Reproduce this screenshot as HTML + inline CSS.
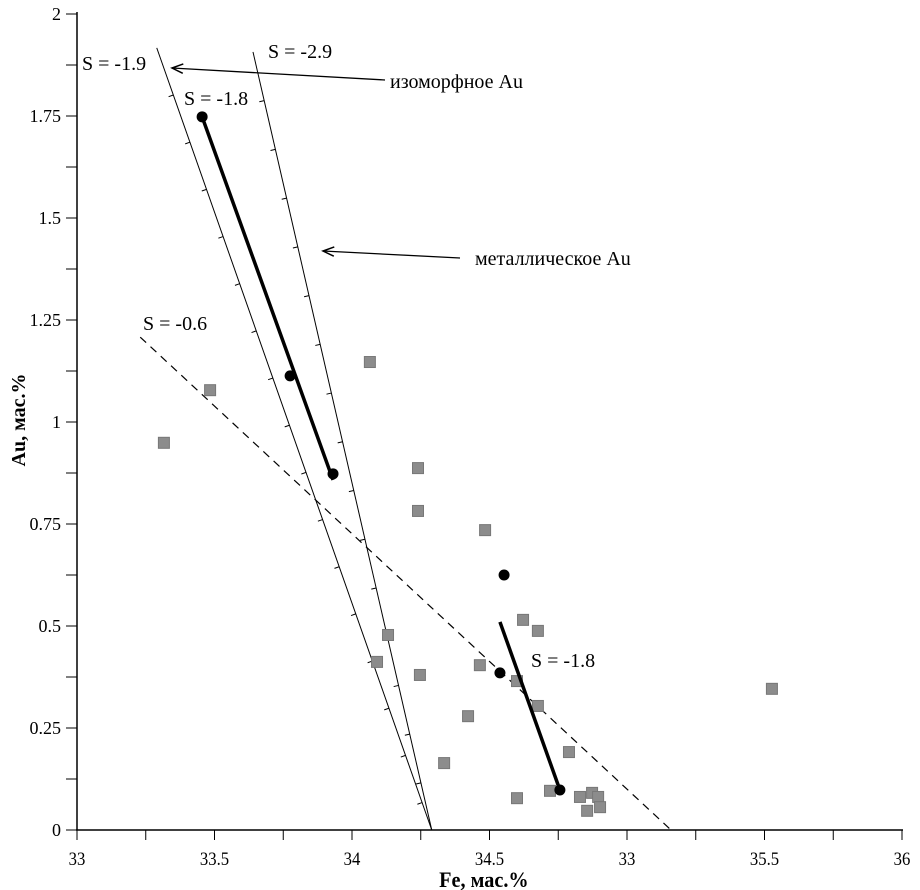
<!DOCTYPE html>
<html><head><meta charset="utf-8"><style>
body{margin:0;background:#fff}
svg{display:block;font-family:"Liberation Serif","DejaVu Serif",serif}
</style></head><body>
<svg id="c" width="920" height="890" viewBox="0 0 920 890"></svg>
<script>
const xTickLabels=["33","33.5","34","34.5","33","35.5","36"];
const yTickLabels=["0","0.25","0.5","0.75","1","1.25","1.5","1.75","2"];
const sqX=[33.316,33.484,34.065,34.240,34.240,34.484,34.131,34.091,34.247,34.465,34.422,34.335,34.622,34.676,34.600,34.676,34.789,34.720,34.600,34.829,34.873,34.895,34.855,34.902,35.527];
const sqY=[0.949,1.078,1.147,0.887,0.782,0.735,0.478,0.412,0.380,0.404,0.279,0.164,0.515,0.488,0.365,0.304,0.191,0.096,0.078,0.081,0.091,0.081,0.047,0.056,0.346];
const circX=[33.455,33.775,33.931,34.553,34.538,34.756];
const circY=[1.748,1.113,0.873,0.625,0.385,0.098];
const trendX1=[33.455,33.931];const trendY1=[1.748,0.858];
const trendX2=[34.538,34.756];const trendY2=[0.51,0.098];
const s19X=[33.29,34.29];const s19Y=[1.917,0];
const s29X=[33.64,34.29];const s29Y=[1.907,0];
const s06X=[33.23,35.16];const s06Y=[1.208,0];
const X0=77,XS=275,Y0=830,YS=408;
const sx=v=>X0+(v-33)*XS, sy=v=>Y0-v*YS;
const svg=document.getElementById('c');const NS="http://www.w3.org/2000/svg";
function mk(t,a,p){const e=document.createElementNS(NS,t);for(const k in a)e.setAttribute(k,a[k]);(p||svg).appendChild(e);return e;}
let e;
e=mk('line',{x1:76,y1:Y0,x2:903,y2:Y0,stroke:'#000','stroke-width':1.5});


e=mk('line',{x1:77,y1:12,x2:77,y2:Y0,stroke:'#000','stroke-width':1.5});


for(let i=0;i<=12;i++){const x=sx(33+i*0.25);
 e=mk('line',{x1:x,y1:Y0,x2:x,y2:Y0+10,stroke:'#000','stroke-width':1});
 
 }
xTickLabels.forEach((l,i)=>{e=mk('text',{x:sx(33+i*0.5),y:865,'text-anchor':'middle','font-size':19,transform:`translate(${sx(33+i*0.5)*0.12},0) scale(0.88,1)`});e.textContent=l;
 
 });
for(let i=0;i<=16;i++){const y=sy(i*0.125);
 e=mk('line',{x1:66,y1:y,x2:77,y2:y,stroke:'#000','stroke-width':1});
 
 }
yTickLabels.forEach((l,i)=>{e=mk('text',{x:61,y:sy(i*0.25)+6,'text-anchor':'end','font-size':18});e.textContent=l;
 
 });
e=mk('text',{x:526,y:887,'text-anchor':'middle','font-size':22,'font-weight':'bold',transform:'scale(0.92,1)'});e.textContent='Fe, мас.%';


e=mk('text',{x:0,y:0,'text-anchor':'middle','font-size':20,'font-weight':'bold',transform:'translate(25,420) rotate(-90)'});e.textContent='Au, мас.%';


function sline(X,Y,name){const x1=sx(X[0]),y1=sy(Y[0]),x2=sx(X[1]),y2=sy(Y[1]);
 e=mk('line',{x1,y1,x2,y2,stroke:'#000','stroke-width':1});
 
 
 const dx=x2-x1,dy=y2-y1,L=Math.hypot(dx,dy),nx=-dy/L,ny=dx/L;
 for(let t=50;t<L-20;t+=50){const px=x1+dx*t/L,py=y1+dy*t/L;
  mk('line',{x1:px,y1:py,x2:px+nx*5,y2:py+ny*5,stroke:'#000','stroke-width':1});}}
sline(s19X,s19Y,'line-s-1.9');
sline(s29X,s29Y,'line-s-2.9');
e=mk('line',{x1:sx(s06X[0]),y1:sy(s06Y[0]),x2:sx(s06X[1]),y2:sy(s06Y[1]),stroke:'#000','stroke-width':1.2,'stroke-dasharray':'8,6'});


sqX.forEach((v,i)=>{e=mk('rect',{x:sx(v)-5.5,y:sy(sqY[i])-5.5,width:11,height:11,fill:'#8c8c8c',stroke:'#777','stroke-width':1});
 
 });
e=mk('line',{x1:sx(trendX1[0]),y1:sy(trendY1[0]),x2:sx(trendX1[1]),y2:sy(trendY1[1]),stroke:'#000','stroke-width':3.5});


e=mk('line',{x1:sx(trendX2[0]),y1:sy(trendY2[0]),x2:sx(trendX2[1]),y2:sy(trendY2[1]),stroke:'#000','stroke-width':3.5});


circX.forEach((v,i)=>{e=mk('circle',{cx:sx(v),cy:sy(circY[i]),r:5.5,fill:'#000'});
 
 });
function arrow(x1,y1,x2,y2,name){e=mk('g',{});
 
 
 mk('line',{x1,y1,x2,y2,stroke:'#000','stroke-width':1.3},e);
 const a=Math.atan2(y2-y1,x2-x1),L=12;
 mk('polyline',{points:`${x2-L*Math.cos(a-0.4)},${y2-L*Math.sin(a-0.4)} ${x2},${y2} ${x2-L*Math.cos(a+0.4)},${y2-L*Math.sin(a+0.4)}`,fill:'none',stroke:'#000','stroke-width':1.5},e);}
arrow(385,80,172,68,'arrow-isomorphic');
arrow(460,258,323,251,'arrow-metallic');
function lbl(x,y,t,name){e=mk('text',{x,y,'font-size':20});e.textContent=t;
 
 }
lbl(82,70,'S = -1.9','label-s-1.9');
lbl(268,58,'S = -2.9','label-s-2.9');
lbl(184,105,'S = -1.8','label-s-1.8-upper');
lbl(143,330,'S = -0.6','label-s-0.6');
lbl(531,667,'S = -1.8','label-s-1.8-lower');
lbl(390,88,'изоморфное Au','label-isomorphic-au');
lbl(475,265,'металлическое Au','label-metallic-au');
</script>
</body></html>
